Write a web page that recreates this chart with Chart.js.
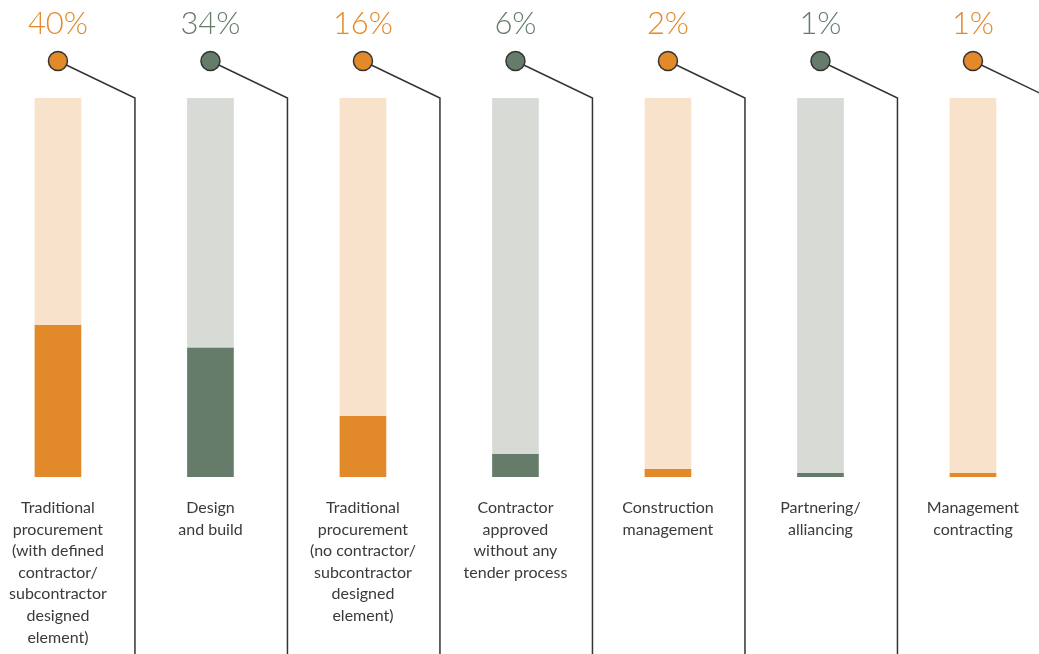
<!DOCTYPE html>
<html>
<head>
<meta charset="utf-8">
<script src="https://cdn.jsdelivr.net/npm/chart.js@4/dist/chart.umd.min.js"></script>
<style>
  html, body { margin: 0; padding: 0; background: #fff; }
  #wrap { width: 1039px; height: 654px; position: relative; }
</style>
</head>
<body>
<div id="wrap"><canvas id="chart"></canvas></div>
<script>
const categories = [
  ["Traditional", "procurement", "(with defined", "contractor/", "subcontractor", "designed", "element)"],
  ["Design", "and build"],
  ["Traditional", "procurement", "(no contractor/", "subcontractor", "designed", "element)"],
  ["Contractor", "approved", "without any", "tender process"],
  ["Construction", "management"],
  ["Partnering/", "alliancing"],
  ["Management", "contracting"]
];
const shares = [40, 34, 16, 6, 2, 1, 1];
const fillColors = ["#e2892a", "#647c69", "#e2892a", "#647c69", "#e2892a", "#647c69", "#e2892a"];
const trackColors = ["#f8e2cb", "#d8dad5", "#f8e2cb", "#d8dad5", "#f8e2cb", "#d8dad5", "#f8e2cb"];

const filled = shares.map((v, i) => ({ x: i, y: v }));
const rest = shares.map((v, i) => ({ x: i, y: 100 - v }));

const calloutPlugin = {
  id: "callouts",
  afterDraw(chart) {
    const ctx = chart.ctx;
    const xs = chart.scales.x;
    const top = chart.chartArea.top;
    ctx.save();
    shares.forEach((v, i) => {
      const cx = xs.getPixelForValue(i);
      const cy = 61;
      const lx = cx + 77;

      ctx.strokeStyle = "#333333";
      ctx.lineWidth = 1.5;
      ctx.beginPath();
      ctx.moveTo(cx, cy);
      ctx.lineTo(lx, top);
      ctx.lineTo(lx, chart.height);
      ctx.stroke();

      ctx.beginPath();
      ctx.arc(cx, cy, 9.5, 0, Math.PI * 2);
      ctx.fillStyle = fillColors[i];
      ctx.fill();
      ctx.lineWidth = 1.5;
      ctx.strokeStyle = "#333333";
      ctx.stroke();

      ctx.fillStyle = fillColors[i];
      ctx.font = "300 31px Lato";
      ctx.textAlign = "center";
      ctx.textBaseline = "middle";
      ctx.fillText(v + "%", cx, 24);
    });
    ctx.restore();
  }
};

new Chart(document.getElementById("chart").getContext("2d"), {
  type: "bar",
  data: {
    datasets: [
      { data: filled, backgroundColor: fillColors, barThickness: 46, stack: "s" },
      { data: rest, backgroundColor: trackColors, barThickness: 46, stack: "s" }
    ]
  },
  plugins: [calloutPlugin],
  options: {
    responsive: true,
    maintainAspectRatio: false,
    animation: false,
    layout: { padding: { top: 98, left: 0, right: 0, bottom: 0 } },
    plugins: {
      legend: { display: false },
      tooltip: { enabled: false }
    },
    scales: {
      x: {
        type: "linear",
        stacked: true,
        offset: false,
        min: -0.38,
        max: 6.433,
        grid: { display: false, offset: false },
        border: { display: false },
        afterBuildTicks: scale => {
          scale.ticks = categories.map((c, i) => ({ value: i }));
        },
        afterFit: scale => {
          scale.height = 177;
          scale.paddingLeft = 0;
          scale.paddingRight = 0;
        },
        ticks: {
          autoSkip: false,
          maxRotation: 0,
          padding: 12,
          color: "#3a3a3a",
          font: { family: "Lato", size: 16, lineHeight: 1.35 },
          callback: v => categories[v] || ""
        }
      },
      y: {
        stacked: true,
        display: false,
        min: 0,
        max: 100
      }
    }
  }
});
</script>
</body>
</html>
